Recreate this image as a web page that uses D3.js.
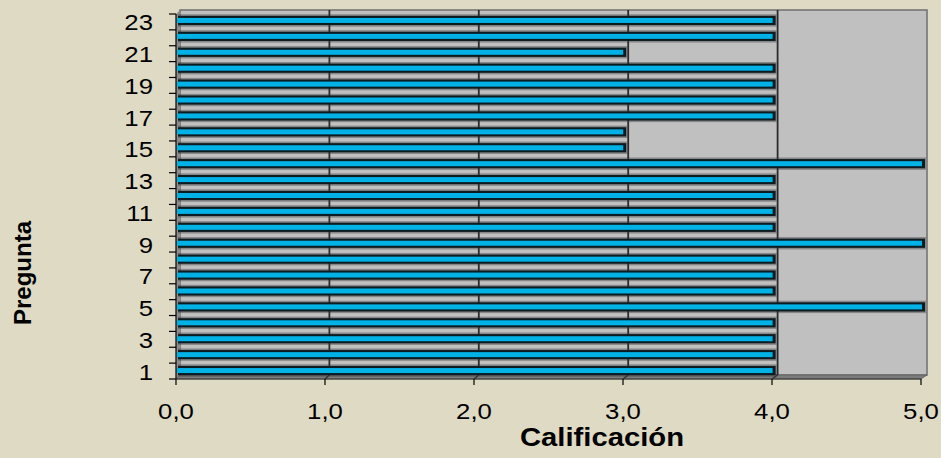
<!DOCTYPE html>
<html>
<head>
<meta charset="utf-8">
<script src="https://cdn.jsdelivr.net/npm/d3@7"></script>
<style>
  html, body { margin: 0; padding: 0; background: #dedac4; }
  text { font-family: "Liberation Sans", Arial, sans-serif; fill: #000; }
</style>
</head>
<body>
<svg id="chart" width="941" height="458"></svg>
<script>
// Preguntas (categorías) y calificación media de cada una
const preguntas = [1, 2, 3, 4, 5, 6, 7, 8, 9, 10, 11, 12, 13, 14, 15, 16, 17, 18, 19, 20, 21, 22, 23];
const calificaciones = [4, 4, 4, 4, 5, 4, 4, 4, 5, 4, 4, 4, 4, 5, 3, 3, 4, 4, 4, 4, 3, 4, 4];
const ticksCalificacion = [0, 1, 2, 3, 4, 5];
const preguntasRotuladas = [1, 3, 5, 7, 9, 11, 13, 15, 17, 19, 21, 23];

const W = 941, H = 458;
const svg = d3.select("#chart").attr("viewBox", `0 0 ${W} ${H}`);

// Escalas: plano frontal (ejes) y pared del fondo (efecto 3D)
const xFront = d3.scaleLinear().domain([0, 5]).range([176, 921]);
const xBack  = d3.scaleLinear().domain([0, 5]).range([180, 927]);
const xBar   = d3.scaleLinear().domain([0, 5]).range([178, 925]);
const yFront = d3.scaleBand().domain(preguntas).range([379, 14]);
const yBar   = d3.scaleBand().domain(preguntas).range([378.5, 12.5]);
const backTop = 10, backBottom = 375, frontTop = 14, frontBottom = 379;

const locale = d3.formatLocale({ decimal: ",", thousands: ".", grouping: [3], currency: ["", " €"] });
const fmt = locale.format(".1f");

// Texto con un ligero ensanchamiento horizontal
function label(g, x, y, txt, opts = {}) {
  const sx = opts.sx || 1.12;
  return g.append("text")
    .attr("transform", `translate(${x},${y}) ${opts.rotate ? `rotate(${opts.rotate})` : ""} scale(${sx},1)`)
    .attr("text-anchor", opts.anchor || "middle")
    .style("font-size", (opts.size || 23) + "px")
    .style("font-weight", opts.bold ? "bold" : "normal")
    .text(txt);
}

// Pared del fondo
svg.append("rect")
  .attr("x", xBack(0)).attr("y", backTop)
  .attr("width", xBack(5) - xBack(0)).attr("height", backBottom - backTop)
  .attr("fill", "#c0c0c0").attr("stroke", "#6f6f6f").attr("stroke-width", 1.5);

// Pared lateral izquierda
svg.append("polygon")
  .attr("points", [[xFront(0), frontTop], [xBack(0), backTop], [xBack(0), backBottom], [xFront(0), frontBottom]].join(" "))
  .attr("fill", "#8e8e8e");

// Suelo
svg.append("polygon")
  .attr("points", [[xFront(0), frontBottom], [xBack(0), backBottom], [xBack(5), backBottom], [xFront(5), frontBottom]].join(" "))
  .attr("fill", "#7c7c7c").attr("stroke", "#5a5a5a").attr("stroke-width", 0.8);

// Líneas de división
const grid = svg.append("g");
ticksCalificacion.filter(v => v > 0 && v < 5).forEach(v => {
  grid.append("line")
    .attr("x1", xBack(v)).attr("x2", xBack(v))
    .attr("y1", backTop).attr("y2", backBottom)
    .attr("stroke", "#2b2b2b").attr("stroke-width", 1.8);
  grid.append("line")
    .attr("x1", xBack(v)).attr("x2", xFront(v))
    .attr("y1", backBottom).attr("y2", frontBottom)
    .attr("stroke", "#2b2b2b").attr("stroke-width", 1.2);
});

// Barras
const bars = svg.append("g");
preguntas.forEach((p, i) => {
  const v = calificaciones[i];
  const yc = yBar(p) + yBar.bandwidth() / 2;
  const x0 = xBar(0), x1 = xBar(v);
  bars.append("rect")
    .attr("x", x0).attr("y", yc - 6.2).attr("width", x1 - x0 + 1).attr("height", 12.4)
    .attr("fill", "#3a3a3a").attr("opacity", 0.42);
  bars.append("rect")
    .attr("x", x0).attr("y", yc - 4.6).attr("width", x1 - x0).attr("height", 9.2)
    .attr("fill", "#0b1c22");
  bars.append("rect")
    .attr("x", x0 - 1).attr("y", yc - 2.5).attr("width", x1 - x0 - 2).attr("height", 5)
    .attr("fill", "#00b2e6");
});

// Eje vertical (preguntas)
const axes = svg.append("g").attr("stroke", "#000").attr("stroke-width", 1.2);
axes.append("line").attr("x1", xFront(0)).attr("x2", xFront(0)).attr("y1", frontTop).attr("y2", frontBottom);
const bounds = preguntas.map(p => yFront(p) + yFront.bandwidth()).concat([yFront(preguntas[preguntas.length - 1])]);
bounds.forEach(y => {
  axes.append("line").attr("x1", xFront(0) - 7).attr("x2", xFront(0)).attr("y1", y).attr("y2", y);
});
// Eje horizontal (calificación)
axes.append("line").attr("x1", xFront(0)).attr("x2", xFront(5)).attr("y1", frontBottom).attr("y2", frontBottom)
  .attr("stroke", "#333");
ticksCalificacion.forEach(v => {
  axes.append("line").attr("x1", xFront(v)).attr("x2", xFront(v)).attr("y1", frontBottom).attr("y2", frontBottom + 6);
});

// Rótulos
const labels = svg.append("g");
preguntasRotuladas.forEach(p => {
  const yc = yFront(p) + yFront.bandwidth() / 2;
  label(labels, 153, yc + 8.5, String(p), { anchor: "end", size: 23 });
});
ticksCalificacion.forEach(v => {
  label(labels, xFront(v), 419, fmt(v), { size: 23 });
});
label(labels, 602, 446, "Calificación", { bold: true, size: 25, sx: 1.17 });
label(labels, 31, 273, "Pregunta", { bold: true, size: 24, rotate: -90, sx: 1.0 });
</script>
</body>
</html>
